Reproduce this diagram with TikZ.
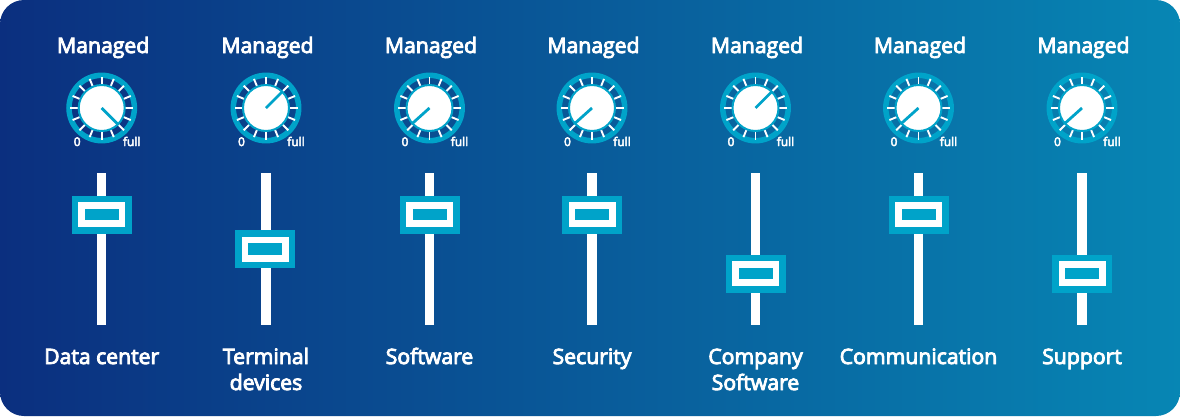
\documentclass[tikz,border=0pt]{standalone}
\usepackage{fontspec}
\usetikzlibrary{calc}
\setmainfont{Open Sans}[FakeBold=4]
\definecolor{teal1}{HTML}{00A3C9}
\definecolor{bgl}{HTML}{0B2F7F}
\definecolor{bgr}{HTML}{0786B4}
\tikzset{
  x=1pt,y=-1pt,
  title/.style={text=white,font=\fontsize{21.2}{24}\selectfont,inner sep=0,anchor=base},
  lab/.style={text=white,font=\fontsize{21.2}{26}\selectfont,inner sep=0,anchor=base,align=center},
  small/.style={text=white,font=\fontsize{12}{13}\selectfont,inner sep=0,anchor=base},
}
\begin{document}
\begin{tikzpicture}
\useasboundingbox (0,0) rectangle (1180,416);
\shade[left color=bgl,right color=bgr,rounded corners=24] (0,0) rectangle (1180,416);
\foreach \id/\cx/\hx/\hy/\ang/\la/\ly in {
 a/101.7/101.7/214.5/45/Data center/364,
 b/266/265.3/249/-45/Terminal\\devices/390,
 c/429.5/429.5/214.5/138/Software/364,
 d/592/592/214.5/138/Security/364,
 e/755.5/755.5/273.5/-45/Company\\Software/390,
 f/918.5/918.5/214.5/138/Communication/364,
 g/1082/1082/273.5/138/Support/364}{
  \node[title] (m\id) at (\cx+1.5,53) {Managed};
  \coordinate (k\id) at (\cx,108);
  \draw[teal1,line width=5.5] (k\id) circle[radius=32.7];
  \foreach \t in {0,22.5,...,337.5}
    \draw[white,line width=1.9] ($(k\id)+(\t:22)$) -- ($(k\id)+(\t:31.5)$);
  \fill[white,draw=teal1,line width=2] (k\id) circle[radius=23];
  \draw[teal1,line width=2.8] (k\id) -- ++(\ang:24);
  \node[small] (z\id) at (\cx-24.5,146) {0};
  \node[small] (u\id) at (\cx+30,146) {full};
  \coordinate (t\id) at (\cx,173);
  \coordinate (b\id) at (\cx,325);
  \draw[white,line width=9.5] (t\id) -- (b\id);
  \node[fill=teal1,minimum width=60,minimum height=38,inner sep=0] (h\id) at (\hx,\hy) {};
  \node[fill=white,minimum width=47,minimum height=25,inner sep=0] (w\id) at (\hx,\hy) {};
  \node[fill=teal1,minimum width=34,minimum height=11.5,inner sep=0] (i\id) at (\hx,\hy) {};
  \node[lab] (l\id) at (\cx,\ly) {\la};
}
\end{tikzpicture}
\end{document}
